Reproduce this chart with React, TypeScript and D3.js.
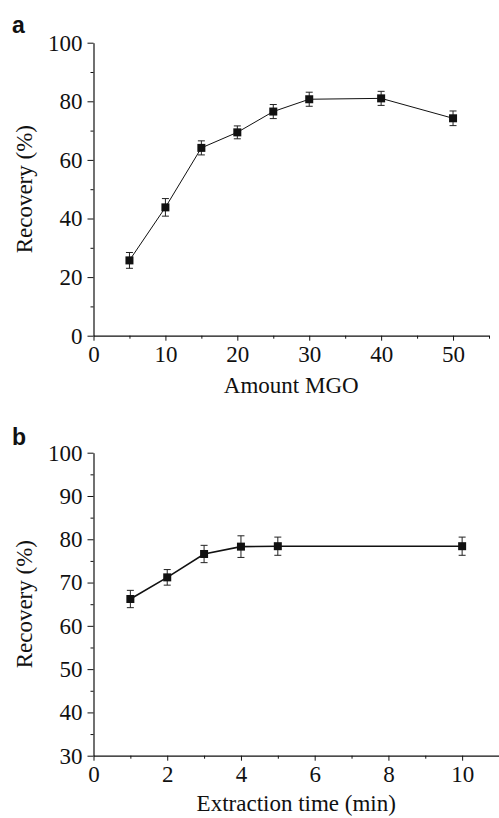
import React, { useEffect, useRef } from 'react';
import * as d3 from 'd3';

// Panel a: recovery vs amount of MGO
const amountMGO = [5, 10, 15, 20, 25, 30, 40, 50];
const recoveryA = [25.7, 43.8, 64.1, 69.4, 76.5, 80.7, 81.0, 74.2];
const errorA = [2.7, 3.0, 2.4, 2.2, 2.4, 2.4, 2.4, 2.5];
const xTicksA = [0, 10, 20, 30, 40, 50];
const yTicksA = [0, 20, 40, 60, 80, 100];

// Panel b: recovery vs extraction time
const extractionTime = [1, 2, 3, 4, 5, 10];
const recoveryB = [66.2, 71.2, 76.6, 78.3, 78.4, 78.4];
const errorB = [2.0, 1.8, 2.0, 2.5, 2.1, 2.1];
const xTicksB = [0, 2, 4, 6, 8, 10];
const yTicksB = [30, 40, 50, 60, 70, 80, 90, 100];

const serif = '"Liberation Serif", "Times New Roman", serif';
const fontSize = '23px';

function drawPanel(svg, opts) {
  const { xs, ys, errs, xDomain, yDomain, xRange, yRange, xTicks, yTicks, xMinor, yMinor,
    letter, letterY, xTitle, titleY, lineWidth } = opts;

  const x = d3.scaleLinear().domain(xDomain).range(xRange);
  const y = d3.scaleLinear().domain(yDomain).range(yRange);
  const g = svg.append('g');

  // minor ticks first, no labels
  g.append('g')
    .attr('transform', `translate(0, ${yRange[0]})`)
    .call(d3.axisBottom(x).tickValues(xMinor).tickSize(3).tickSizeOuter(0).tickFormat(() => ''))
    .call(s => s.select('.domain').remove());
  g.append('g')
    .attr('transform', `translate(${xRange[0]}, 0)`)
    .call(d3.axisLeft(y).tickValues(yMinor).tickSize(3).tickSizeOuter(0).tickFormat(() => ''))
    .call(s => s.select('.domain').remove());

  const xAxis = g.append('g')
    .attr('transform', `translate(0, ${yRange[0]})`)
    .call(d3.axisBottom(x).tickValues(xTicks).tickSize(5).tickSizeOuter(0).tickPadding(5));
  const yAxis = g.append('g')
    .attr('transform', `translate(${xRange[0]}, 0)`)
    .call(d3.axisLeft(y).tickValues(yTicks).tickSize(6).tickSizeOuter(0).tickPadding(5));

  [xAxis, yAxis].forEach(a => {
    a.selectAll('text').style('font-family', serif).style('font-size', fontSize).attr('fill', '#111');
    a.select('.domain').attr('stroke', '#111').attr('stroke-width', 1.2);
  });
  g.selectAll('line').attr('stroke', '#111');

  const pts = xs.map((v, i) => ({ x: v, y: ys[i], e: errs[i] }));

  // connecting line
  g.append('path')
    .datum(pts)
    .attr('fill', 'none')
    .attr('stroke', '#111')
    .attr('stroke-width', lineWidth)
    .attr('d', d3.line().x(d => x(d.x)).y(d => y(d.y)));

  // error bars
  const eb = g.append('g').attr('stroke', '#222').attr('stroke-width', 1);
  pts.forEach(d => {
    const cx = x(d.x);
    eb.append('line').attr('x1', cx).attr('x2', cx).attr('y1', y(d.y + d.e)).attr('y2', y(d.y - d.e));
    eb.append('line').attr('x1', cx - 3.5).attr('x2', cx + 3.5).attr('y1', y(d.y + d.e)).attr('y2', y(d.y + d.e));
    eb.append('line').attr('x1', cx - 3.5).attr('x2', cx + 3.5).attr('y1', y(d.y - d.e)).attr('y2', y(d.y - d.e));
  });

  // square markers
  g.selectAll('rect.pt')
    .data(pts)
    .enter()
    .append('rect')
    .attr('class', 'pt')
    .attr('x', d => x(d.x) - 4)
    .attr('y', d => y(d.y) - 4)
    .attr('width', 8)
    .attr('height', 8)
    .attr('fill', '#111');

  // panel letter
  svg.append('text')
    .attr('x', 12)
    .attr('y', letterY)
    .style('font-family', '"Liberation Sans", Arial, sans-serif')
    .style('font-weight', 'bold')
    .style('font-size', '23px')
    .attr('fill', '#111')
    .text(letter);

  // axis titles
  svg.append('text')
    .attr('x', (xRange[0] + xRange[1]) / 2)
    .attr('y', titleY)
    .attr('text-anchor', 'middle')
    .style('font-family', serif)
    .style('font-size', fontSize)
    .attr('fill', '#111')
    .text(xTitle);

  const cy = (yRange[0] + yRange[1]) / 2;
  svg.append('text')
    .attr('transform', `translate(32, ${cy}) rotate(-90)`)
    .attr('text-anchor', 'middle')
    .style('font-family', serif)
    .style('font-size', fontSize)
    .attr('fill', '#111')
    .text('Recovery (%)');
}

const App = () => {
  const svgRef = useRef(null);

  useEffect(() => {
    const svg = d3.select(svgRef.current);
    svg.selectAll('*').remove();

    drawPanel(svg, {
      xs: amountMGO, ys: recoveryA, errs: errorA,
      xDomain: [0, 55], yDomain: [0, 100],
      xRange: [93.5, 489], yRange: [335.7, 42.7],
      xTicks: xTicksA, yTicks: yTicksA,
      xMinor: [5, 15, 25, 35, 45, 55], yMinor: [10, 30, 50, 70, 90],
      letter: 'a', letterY: 33, xTitle: 'Amount MGO', titleY: 393, lineWidth: 1
    });

    drawPanel(svg, {
      xs: extractionTime, ys: recoveryB, errs: errorB,
      xDomain: [0, 11], yDomain: [30, 100],
      xRange: [93.5, 499], yRange: [755.7, 452.7],
      xTicks: xTicksB, yTicks: yTicksB,
      xMinor: [1, 3, 5, 7, 9, 11], yMinor: [35, 45, 55, 65, 75, 85, 95],
      letter: 'b', letterY: 445, xTitle: 'Extraction time (min)', titleY: 811, lineWidth: 1.6
    });
  }, []);

  return (
    <svg ref={svgRef} width={499} height={818}
      style={{ position: 'absolute', left: 0, top: 0, background: '#fff' }} />
  );
};

export default App;
